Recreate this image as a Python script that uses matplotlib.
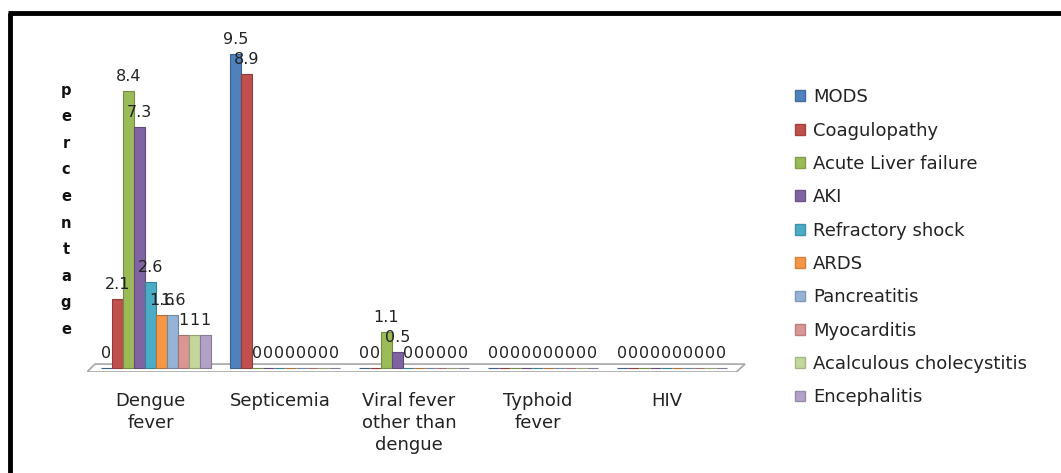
import numpy as np
import matplotlib
matplotlib.use("Agg")
import matplotlib.pyplot as plt
from matplotlib.patches import Patch, Polygon
from matplotlib.lines import Line2D

# complication rates (%) by diagnosis
categories = ["Dengue\nfever", "Septicemia", "Viral fever\nother than\ndengue", "Typhoid\nfever", "HIV"]
series = ["MODS", "Coagulopathy", "Acute Liver failure", "AKI", "Refractory shock",
          "ARDS", "Pancreatitis", "Myocarditis", "Acalculous cholecystitis", "Encephalitis"]
mods = [0, 9.5, 0, 0, 0]
coagulopathy = [2.1, 8.9, 0, 0, 0]
liver_failure = [8.4, 0, 1.1, 0, 0]
aki = [7.3, 0, 0.5, 0, 0]
refractory_shock = [2.6, 0, 0, 0, 0]
ards = [1.6, 0, 0, 0, 0]
pancreatitis = [1.6, 0, 0, 0, 0]
myocarditis = [1, 0, 0, 0, 0]
acalculous = [1, 0, 0, 0, 0]
encephalitis = [1, 0, 0, 0, 0]

values = [mods, coagulopathy, liver_failure, aki, refractory_shock,
          ards, pancreatitis, myocarditis, acalculous, encephalitis]
colors = ["#4F81BD", "#C0504D", "#9BBB59", "#8064A2", "#4BACC6",
          "#F79646", "#95B3D7", "#D99694", "#C3D69B", "#B3A2C7"]

W, H = 1061, 473
fig = plt.figure(figsize=(W / 100, H / 100), dpi=100)
ax = fig.add_axes([87 / W, 1 - 372 / H, 663 / W, 331 / H])
ax.set_xlim(-0.535, 4.605)
ax.set_ylim(-0.12, 9.9)
ax.axis("off")

# floor of the 3-D plot area
floor = Polygon([(-0.535, -0.12), (4.50, -0.12), (4.566, 0.12), (-0.473, 0.12)],
                closed=True, facecolor="white", edgecolor="#a6a6a6", lw=1.2, zorder=1)
ax.add_patch(floor)

x = np.arange(len(categories))
bw = 11 / 129

def darker(c, f=0.75):
    r, g, b = matplotlib.colors.to_rgb(c)
    return (r * f, g * f, b * f)

for j, (vals, col) in enumerate(zip(values, colors)):
    xs = x + (j - 4.5) * bw
    ax.bar(xs, vals, width=bw * 0.95, color=col, edgecolor=darker(col),
           linewidth=0.8, zorder=3)
    for xi, v in zip(xs, vals):
        ax.annotate("%g" % v, (xi, v), xytext=(0, 5), textcoords="offset points",
                    ha="center", va="bottom", fontsize=11.5, color="#222222",
                    family="DejaVu Sans", zorder=5)

for xi, name in zip(x, categories):
    ax.text(xi - 0.04, -0.72, name, ha="center", va="top", fontsize=13,
            family="DejaVu Sans", color="#222222", linespacing=1.3)

# stacked axis title
word = "percentage"
for k, ch in enumerate(word):
    fig.text(66 / W, 1 - (90 + k * 26.6) / H, ch, ha="center", va="center",
             fontsize=10.5, fontweight="bold", family="DejaVu Sans", color="#111111")

handles = [Patch(facecolor=c, edgecolor=darker(c, 0.85)) for c in colors]
leg = fig.legend(handles, series, loc="upper left", bbox_to_anchor=(779 / W, 1 - 72 / H),
                 frameon=False, handlelength=0.55, handleheight=0.55, handletextpad=0.45,
                 labelspacing=0.85, prop={"family": "DejaVu Sans", "size": 13})
for t in leg.get_texts():
    t.set_color("#222222")

# outer border (left and top edges)
fig.add_artist(Line2D([9.5 / W, 9.5 / W], [0, 1 - 13 / H], transform=fig.transFigure,
                      color="black", lw=3.5, solid_capstyle="butt"))
fig.add_artist(Line2D([8 / W, 1], [1 - 13 / H, 1 - 13 / H], transform=fig.transFigure,
                      color="black", lw=3.5, solid_capstyle="butt"))

fig.savefig("out.png", dpi=100)
